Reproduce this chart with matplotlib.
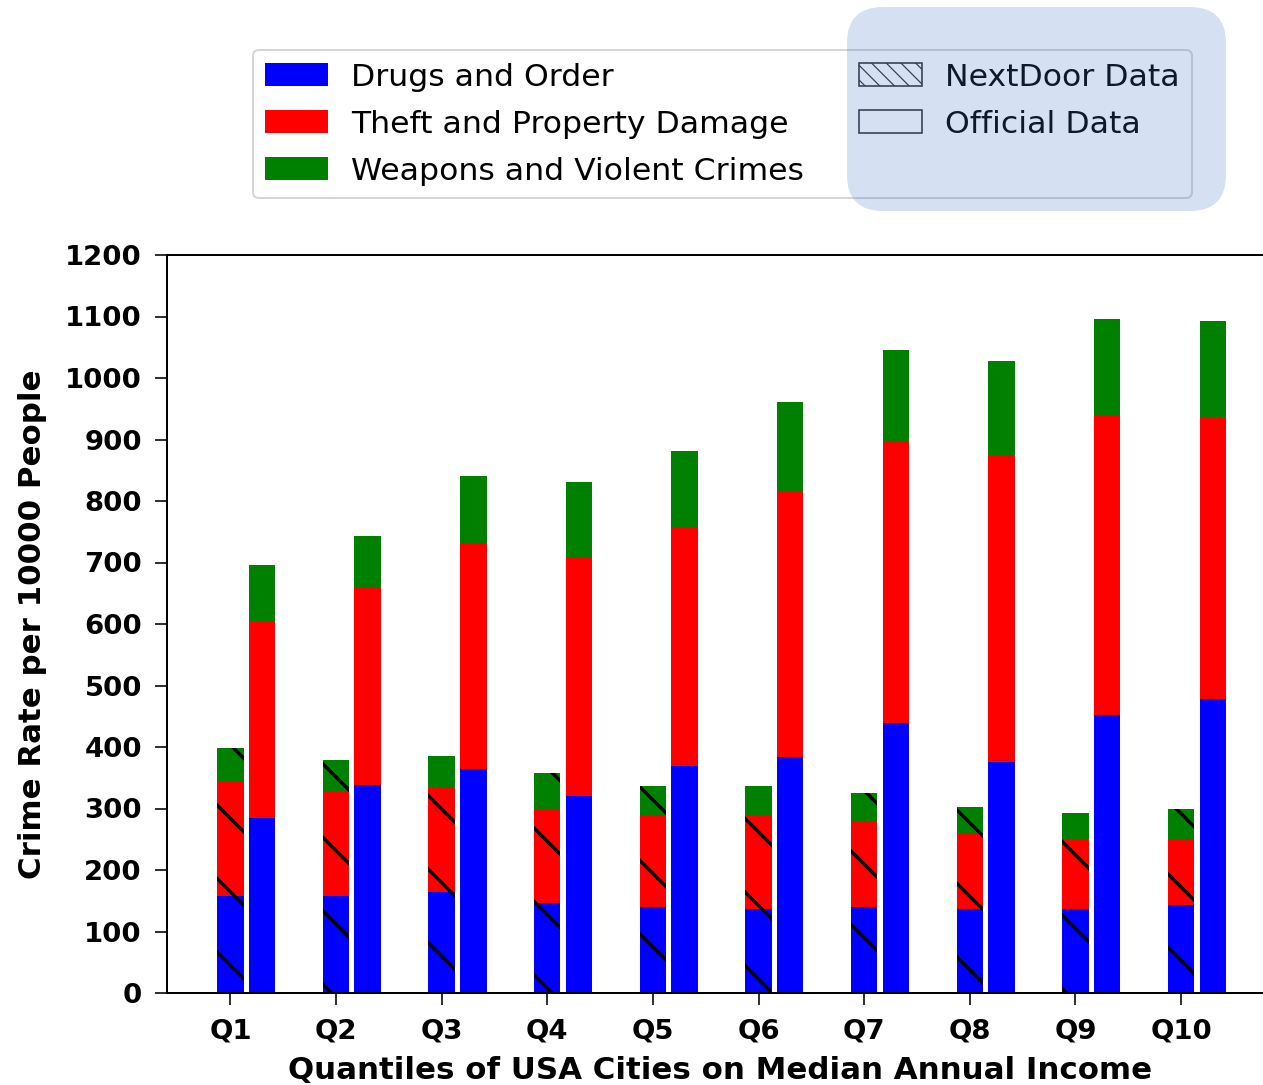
import matplotlib
matplotlib.use("Agg")
import matplotlib.pyplot as plt
from matplotlib.patches import Patch, FancyBboxPatch
import numpy as np

# figure is rendered at high dpi so that the hatch spacing matches the reference
DPI = 441
W_PX, H_PX = 1263, 1085


def px(v):
    """pixels -> points"""
    return v * 72.0 / DPI


quantiles = ["Q1", "Q2", "Q3", "Q4", "Q5", "Q6", "Q7", "Q8", "Q9", "Q10"]

# NextDoor data (stacked segments)
nd_drugs = [158, 158, 165, 146, 140, 136, 140, 136, 136, 143]
nd_theft = [185, 170, 170, 153, 148, 152, 138, 123, 112, 105]
nd_weapons = [55, 51, 51, 58, 48, 48, 47, 44, 44, 51]

# Official data (stacked segments)
off_drugs = [285, 339, 365, 321, 369, 383, 439, 376, 452, 478]
off_theft = [320, 321, 367, 386, 389, 433, 457, 498, 488, 459]
off_weapons = [91, 83, 109, 124, 124, 145, 149, 153, 156, 156]

categories = ["Drugs and Order", "Theft and Property Damage", "Weapons and Violent Crimes"]
colors = ["blue", "red", "green"]

plt.rcParams["hatch.linewidth"] = px(3.4)

fig = plt.figure(figsize=(W_PX / DPI, H_PX / DPI), dpi=DPI)
ax = fig.add_axes([167 / W_PX, (H_PX - 993) / H_PX, (1274 - 167) / W_PX, (993 - 255) / H_PX])

x = np.arange(len(quantiles))
width = 0.25
offset = 0.3

nd = [nd_drugs, nd_theft, nd_weapons]
off = [off_drugs, off_theft, off_weapons]

bottom = np.zeros(len(x))
for vals, c in zip(nd, colors):
    ax.bar(x, vals, width, bottom=bottom, color=c, hatch="\\\\", linewidth=0)
    bottom += np.array(vals)

bottom = np.zeros(len(x))
for vals, c in zip(off, colors):
    ax.bar(x + offset, vals, width, bottom=bottom, color=c, linewidth=0)
    bottom += np.array(vals)

ax.set_xlim(-0.6, 9.88)
ax.set_ylim(0, 1200)
ax.set_yticks(np.arange(0, 1201, 100))
ax.set_xticks(x)
ax.set_xticklabels(quantiles)

for s in ax.spines.values():
    s.set_linewidth(px(2))
ax.tick_params(length=px(12), width=px(1.6), labelsize=px(27.5), pad=px(13))
for lab in ax.get_xticklabels() + ax.get_yticklabels():
    lab.set_fontweight("bold")

ax.set_xlabel("Quantiles of USA Cities on Median Annual Income",
              fontsize=px(31), fontweight="bold", labelpad=px(12))
ax.set_ylabel("Crime Rate per 10000 People",
              fontsize=px(31), fontweight="bold", labelpad=px(18))

# legend
handles = [Patch(facecolor=c, edgecolor="none") for c in colors]
labels = list(categories)
h_nd = Patch(facecolor="white", edgecolor="#303030", hatch="\\" * 10, linewidth=px(1.6))
h_off = Patch(facecolor="white", edgecolor="#303030", linewidth=px(1.6))
handles += [h_nd, h_off]
labels += ["NextDoor Data", "Official Data"]

leg = fig.legend(handles, labels, ncol=2, loc="upper left",
                 bbox_to_anchor=(252.7 / W_PX, 1 - 50 / H_PX),
                 borderaxespad=0, fontsize=px(31.5), labelspacing=0.57,
                 columnspacing=1.75, handletextpad=0.72, handleheight=0.75)
leg.get_frame().set_linewidth(px(2))
for h in leg.legend_handles:
    if hasattr(h, "set_hatch_linewidth"):
        h.set_hatch_linewidth(px(1.2))

# highlight box over the right half of the legend
box = FancyBboxPatch((847 / DPI, (H_PX - 211) / DPI), (1226 - 847) / DPI, (211 - 7) / DPI,
                     boxstyle="round,pad=0,rounding_size=%f" % (36 / DPI),
                     transform=fig.dpi_scale_trans, facecolor="#4472C4",
                     edgecolor="none", alpha=0.22, zorder=10)
fig.add_artist(box)

fig.savefig("out.png", dpi=DPI)
